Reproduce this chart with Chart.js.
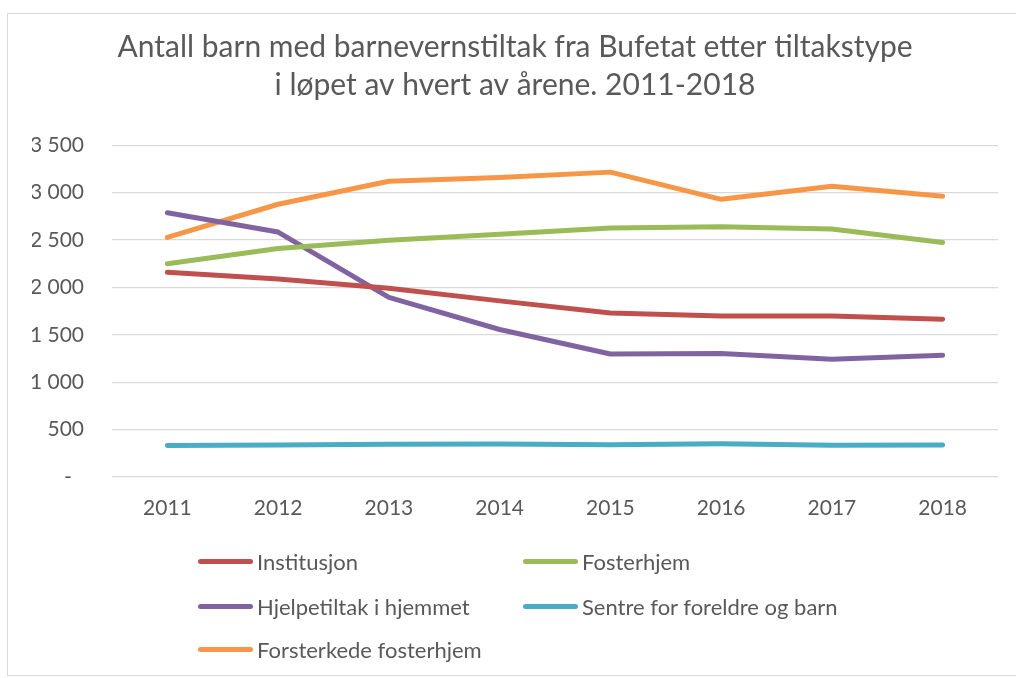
<!DOCTYPE html>
<html>
<head>
<meta charset="utf-8">
<script src="https://cdn.jsdelivr.net/npm/chart.js@4/dist/chart.umd.min.js"></script>
<style>
  html, body { margin: 0; padding: 0; background: #fff; }
  body { width: 1016px; height: 678px; position: relative; overflow: hidden; font-family: Lato, sans-serif; }
  #frame { position: absolute; left: 7px; top: 13px; width: 1100px; height: 663px; border: 1px solid #d9d9d9; box-sizing: border-box; }
  #wrap { position: absolute; left: 0; top: 0; width: 1016px; height: 678px; }
  #legend { position: absolute; left: 0; top: 0; width: 1016px; height: 678px; pointer-events: none; }
  .item { position: absolute; height: 26px; display: flex; align-items: center; color: #595959; font-size: 22px; white-space: nowrap; }
  .swatch { width: 55px; height: 5px; border-radius: 3px; margin-right: 4px; }
</style>
</head>
<body>
<div id="frame"></div>
<div id="wrap"><canvas id="c" width="1016" height="678"></canvas></div>
<div id="legend"></div>
<script>
const years = ['2011', '2012', '2013', '2014', '2015', '2016', '2017', '2018'];
const institusjon = [2160, 2088, 1990, 1858, 1730, 1698, 1698, 1664];
const fosterhjem = [2250, 2410, 2498, 2560, 2626, 2640, 2615, 2474];
const hjelpetiltak = [2788, 2584, 1895, 1556, 1297, 1302, 1242, 1285];
const sentre = [332, 338, 345, 348, 340, 350, 335, 338];
const forsterkede = [2527, 2877, 3120, 3158, 3216, 2929, 3066, 2961];
const seriesNames = ['Institusjon', 'Fosterhjem', 'Hjelpetiltak i hjemmet', 'Sentre for foreldre og barn', 'Forsterkede fosterhjem'];
const seriesColors = ['#C0504D', '#9BBB59', '#8064A2', '#4BACC6', '#F79646'];
const titleLines = ['Antall barn med barnevernstiltak fra Bufetat etter tiltakstype', 'i løpet av hvert av årene. 2011-2018'];
const yMin = 0, yMax = 3500, yStep = 500;

const seriesData = [institusjon, fosterhjem, hjelpetiltak, sentre, forsterkede];
const textColor = '#595959';
const fontFamily = 'Lato, sans-serif';

const datasets = seriesData.map((d, i) => ({
  label: seriesNames[i],
  data: d,
  borderColor: seriesColors[i],
  backgroundColor: seriesColors[i],
  borderWidth: 5,
  borderCapStyle: 'round',
  borderJoinStyle: 'round',
  pointRadius: 0,
  pointHoverRadius: 0,
  tension: 0,
  fill: false
}));

function fmt(v) {
  if (v === 0) return '-\u2007';
  return String(v).replace(/\B(?=(\d{3})+(?!\d))/g, ' ');
}

new Chart(document.getElementById('c'), {
  type: 'line',
  data: { labels: years, datasets },
  options: {
    responsive: false,
    animation: false,
    layout: { padding: { left: 32, right: 18, top: 0, bottom: 140 } },
    plugins: {
      legend: { display: false },
      tooltip: { enabled: false },
      title: {
        display: true,
        text: titleLines,
        color: textColor,
        font: { family: fontFamily, size: 30, weight: 'normal', lineHeight: 1.27 },
        padding: { top: 28, bottom: 41 }
      }
    },
    scales: {
      x: {
        offset: true,
        grid: { display: false, drawTicks: false },
        border: { display: false },
        ticks: { color: textColor, font: { family: fontFamily, size: 21 }, padding: 19, maxRotation: 0 },
        afterFit: (s) => { s.height = 61; }
      },
      y: {
        min: yMin, max: yMax,
        grid: { color: '#D9D9D9', lineWidth: 1.3, drawTicks: false },
        border: { display: false },
        ticks: { stepSize: yStep, color: textColor, font: { family: fontFamily, size: 21 }, padding: 28, callback: (v) => fmt(v) },
        afterFit: (s) => { s.width = 80; }
      }
    }
  }
});

// legend built from the series
const legendPos = [[198, 561], [523, 561], [198, 606], [523, 606], [198, 649]];
const lg = document.getElementById('legend');
seriesNames.forEach((name, i) => {
  const it = document.createElement('div');
  it.className = 'item';
  it.style.left = legendPos[i][0] + 'px';
  it.style.top = (legendPos[i][1] - 13) + 'px';
  const sw = document.createElement('span');
  sw.className = 'swatch';
  sw.style.background = seriesColors[i];
  const tx = document.createElement('span');
  tx.textContent = name;
  it.appendChild(sw); it.appendChild(tx);
  lg.appendChild(it);
});
</script>
</body>
</html>
